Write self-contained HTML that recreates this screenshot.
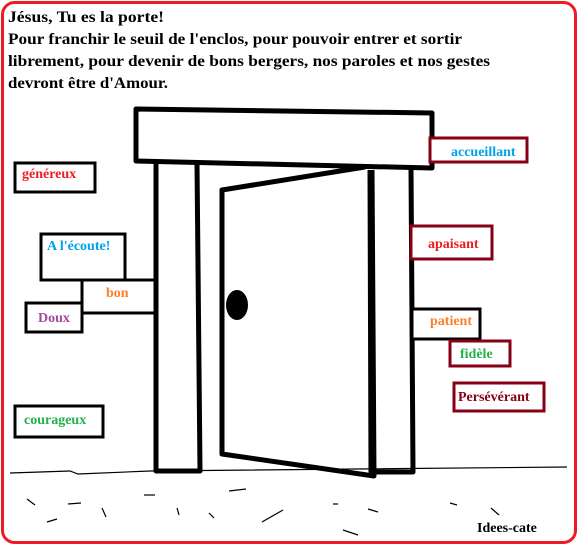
<!DOCTYPE html>
<html><head><meta charset="utf-8"><style>
html,body{margin:0;padding:0;background:#fff;width:578px;height:546px;overflow:hidden}
svg{display:block}
text{font-family:"Liberation Serif",serif;font-weight:bold}
</style></head><body>
<svg width="578" height="546" viewBox="0 0 578 546" xmlns="http://www.w3.org/2000/svg">
<rect x="2.5" y="2.5" width="573" height="540" rx="12" fill="#fff" stroke="#ed1c24" stroke-width="3"/>
<g font-size="16" fill="#000">
<text x="8" y="22" textLength="156" lengthAdjust="spacingAndGlyphs">Jésus, Tu es la porte!</text>
<text x="8" y="44" textLength="454" lengthAdjust="spacingAndGlyphs">Pour franchir le seuil de l'enclos, pour pouvoir entrer et sortir</text>
<text x="8" y="66" textLength="482" lengthAdjust="spacingAndGlyphs">librement, pour devenir de bons bergers, nos paroles et nos gestes</text>
<text x="8" y="88" textLength="160" lengthAdjust="spacingAndGlyphs">devront être d'Amour.</text>
</g>
<g fill="none" stroke="#000" stroke-width="5" stroke-linejoin="round">
<polygon points="136,109 432,113 432,168 136,161"/>
<polyline points="156,162 156,471 200,471 197,163"/>
<polyline points="370,170 371,472 413,472 411,168"/>
<polyline points="365,167 222,190 222,454 374,476 372,170"/>
</g>
<ellipse cx="237" cy="305" rx="11" ry="15" fill="#000"/>
<g stroke="#000" stroke-width="1.2" fill="none">
<polyline points="10,473 70,471 78,474 150,471 567,467"/>
<line x1="27" y1="499" x2="35" y2="505"/><line x1="68" y1="504" x2="81" y2="503"/>
<line x1="47" y1="522" x2="57" y2="519"/><line x1="102" y1="508" x2="106" y2="517"/>
<line x1="144" y1="495" x2="155" y2="495"/><line x1="177" y1="508" x2="179" y2="515"/>
<line x1="209" y1="513" x2="214" y2="518"/><line x1="229" y1="491" x2="246" y2="489"/>
<line x1="262" y1="522" x2="283" y2="510"/><line x1="333" y1="504" x2="338" y2="504"/>
<line x1="368" y1="509" x2="378" y2="512"/><line x1="343" y1="530" x2="358" y2="535"/>
<line x1="450" y1="503" x2="457" y2="505"/><line x1="491" y1="508" x2="499" y2="515"/>
</g>
<g stroke-width="3" fill="#fff">
<rect x="15" y="163" width="80" height="29" stroke="#000"/>
<rect x="41" y="234" width="84" height="46" stroke="#000"/>
<rect x="82" y="280" width="73" height="33" stroke="#000"/>
<rect x="26" y="303" width="56" height="29" stroke="#000"/>
<rect x="15" y="406" width="88" height="31" stroke="#000"/>
<rect x="430" y="138" width="97" height="24" stroke="#880015"/>
<rect x="411" y="226" width="81" height="33" stroke="#880015"/>
<rect x="412" y="309" width="68" height="30" stroke="#000"/>
<rect x="450" y="341" width="60" height="25" stroke="#880015"/>
<rect x="454" y="383" width="90" height="28" stroke="#880015"/>
</g>
<g font-size="14">
<text x="22" y="178" fill="#ed1c24">généreux</text>
<text x="47" y="250" fill="#00a2e8">A l'écoute!</text>
<text x="106" y="297" fill="#ff7f27">bon</text>
<text x="38" y="322" fill="#a349a4">Doux</text>
<text x="24" y="424" fill="#22b14c">courageux</text>
<text x="451" y="156" fill="#00a2e8">accueillant</text>
<text x="428" y="248" fill="#ed1c24">apaisant</text>
<text x="430" y="325" fill="#ff7f27">patient</text>
<text x="460" y="358" fill="#22b14c">fidèle</text>
<text x="458" y="401" fill="#880015">Persévérant</text>
<text x="477" y="532" fill="#000">Idees-cate</text>
</g>
</svg>
</body></html>
